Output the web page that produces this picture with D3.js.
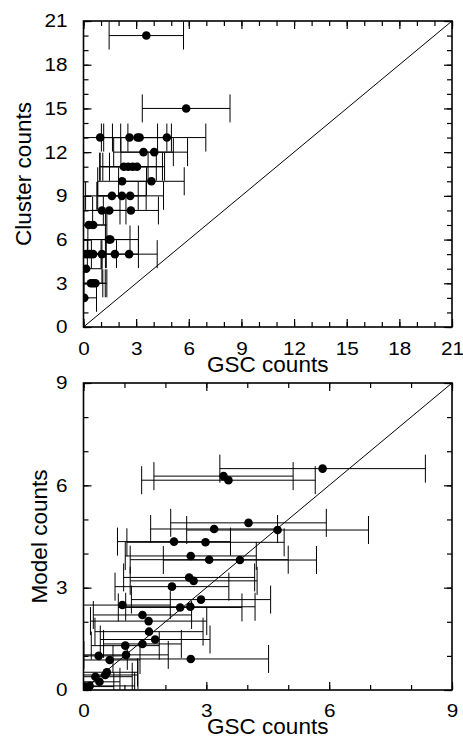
<!DOCTYPE html>
<html>
<head>
<meta charset="utf-8">
<script src="https://cdn.jsdelivr.net/npm/d3@7/dist/d3.min.js"></script>
<style>
  body { margin: 0; background: #fff; }
  svg { display: block; }
  text { font-family: "Liberation Sans", Arial, Helvetica, sans-serif; fill: #000; }
</style>
</head>
<body>
<svg id="chart" width="463" height="738"></svg>
<script>
// Upper panel: cluster counts against GSC counts (with GSC 1-sigma errors)
const clusterGsc    = [3.58, 5.85, 0.95, 2.62, 3.08, 3.20, 4.75, 3.42, 4.03, 2.30, 2.55, 2.80, 3.05, 2.20, 3.87,
                       1.62, 2.19, 2.66, 1.05, 1.47, 2.70, 0.30, 0.55, 1.45, 1.53, 0.15, 0.35, 0.55, 1.05, 1.79,
                       2.60, 0.15, 0.42, 0.55, 0.68, 0.04];
const clusterCounts = [20, 15, 13, 13, 13, 13, 13, 12, 12, 11, 11, 11, 11, 10, 10,
                       9, 9, 9, 8, 8, 8, 7, 7, 6, 6, 5, 5, 5, 5, 5,
                       5, 4, 3, 3, 3, 2];
const clusterGscErr = [2.12, 2.50, 1.17, 1.60, 1.93, 1.55, 2.22, 1.70, 1.90, 1.38, 1.60, 1.70, 1.57, 1.39, 1.87,
                       1.50, 1.38, 1.90, 1.03, 0.95, 1.57, 0.95, 0.78, 1.20, 1.60, 1.10, 0.70, 0.75, 0.83, 1.34,
                       1.60, 0.90, 0.68, 0.69, 0.65, 0.70];

// Lower panel: model counts against GSC counts
const modelGsc    = [5.84, 3.42, 3.54, 4.03, 3.19, 4.74, 2.21, 2.98, 2.62, 3.07, 3.82, 2.58, 2.69, 2.16, 2.87,
                     0.95, 2.36, 2.61, 1.44, 1.59, 1.60, 1.75, 1.44, 1.02, 1.04, 0.37, 0.64, 2.62, 0.57, 0.53,
                     0.39, 0.29, 0.15, 0.04];
const modelCounts = [6.49, 6.27, 6.15, 4.90, 4.72, 4.69, 4.35, 4.33, 3.93, 3.82, 3.81, 3.30, 3.20, 3.03, 2.65,
                     2.49, 2.42, 2.44, 2.20, 2.02, 1.71, 1.48, 1.35, 1.30, 1.03, 1.00, 0.88, 0.91, 0.52, 0.44,
                     0.24, 0.39, 0.12, 0.10];
const modelGscErr = [2.51, 1.70, 2.12, 1.90, 1.55, 2.22, 1.38, 1.92, 1.60, 1.93, 1.87, 1.60, 1.55, 1.39, 1.70,
                     1.17, 1.51, 1.58, 1.20, 1.42, 1.32, 1.34, 0.95, 0.83, 1.03, 0.70, 0.74, 1.90, 0.75, 0.80,
                     0.50, 0.90, 1.10, 0.70];

const upperMajorTicks = [0, 3, 6, 9, 12, 15, 18, 21];
const lowerMajorTicks = [0, 3, 6, 9];

const svg = d3.select("#chart");
const LABEL_STRETCH = 1.12;

function drawPanel(cfg) {
  const { id, top, bottom, left, right, max, majorTicks, xs, ys, errs, xTitle, yTitle,
          xLabelPad, yTitleX, xTitleY } = cfg;
  const x = d3.scaleLinear().domain([0, max]).range([left, right]);
  const y = d3.scaleLinear().domain([0, max]).range([bottom, top]);
  const g = svg.append("g");

  g.append("clipPath").attr("id", id)
    .append("rect").attr("x", left).attr("y", top)
    .attr("width", right - left).attr("height", bottom - top);

  const plot = g.append("g").attr("clip-path", `url(#${id})`);

  // one-to-one line
  plot.append("line")
    .attr("x1", x(0)).attr("y1", y(0)).attr("x2", x(max)).attr("y2", y(max))
    .attr("stroke", "#000").attr("stroke-width", 1);

  const pts = xs.map((v, i) => ({ x: v, y: ys[i], e: errs[i] }));
  const capHalf = 14;

  // horizontal error bars with end caps
  const eb = plot.append("g").attr("stroke", "#000").attr("stroke-width", 1).attr("fill", "none");
  pts.forEach(p => {
    const x0 = x(p.x - p.e), x1 = x(p.x + p.e), yy = y(p.y);
    eb.append("line").attr("x1", x0).attr("x2", x1).attr("y1", yy).attr("y2", yy);
    eb.append("line").attr("x1", x0).attr("x2", x0).attr("y1", yy - capHalf).attr("y2", yy + capHalf);
    eb.append("line").attr("x1", x1).attr("x2", x1).attr("y1", yy - capHalf).attr("y2", yy + capHalf);
  });

  plot.append("g").selectAll("circle").data(pts).join("circle")
    .attr("cx", d => x(d.x)).attr("cy", d => y(d.y)).attr("r", 4.3).attr("fill", "#000");

  const minor = d3.range(0, max + 1);
  const fmt = d3.format("d");

  function styleAxis(sel) {
    sel.select(".domain").remove();
    sel.selectAll(".tick line").attr("stroke", "#000").attr("stroke-width", 1.2);
    sel.selectAll("text").attr("font-size", 18.5).attr("fill", "#000")
      .attr("font-family", "Liberation Sans, Arial, sans-serif");
  }

  // inward minor and major ticks on all four sides
  g.append("g").attr("transform", `translate(0,${bottom})`)
    .call(d3.axisBottom(x).tickValues(minor).tickSize(-5).tickSizeOuter(0).tickFormat("")).call(styleAxis);
  g.append("g").attr("transform", `translate(0,${bottom})`)
    .call(d3.axisBottom(x).tickValues(majorTicks).tickSize(-8).tickSizeOuter(0).tickPadding(xLabelPad).tickFormat(fmt))
    .call(styleAxis)
    .call(s => s.selectAll("text").attr("transform", `scale(${LABEL_STRETCH},1)`));
  g.append("g").attr("transform", `translate(0,${top})`)
    .call(d3.axisTop(x).tickValues(minor).tickSize(-5).tickSizeOuter(0).tickFormat("")).call(styleAxis);
  g.append("g").attr("transform", `translate(0,${top})`)
    .call(d3.axisTop(x).tickValues(majorTicks).tickSize(-8).tickSizeOuter(0).tickFormat("")).call(styleAxis);

  g.append("g").attr("transform", `translate(${left},0)`)
    .call(d3.axisLeft(y).tickValues(minor).tickSize(-5).tickSizeOuter(0).tickFormat("")).call(styleAxis);
  g.append("g").attr("transform", `translate(${left},0)`)
    .call(d3.axisLeft(y).tickValues(majorTicks).tickSize(-8).tickSizeOuter(0).tickPadding(16).tickFormat(fmt))
    .call(styleAxis)
    .call(s => s.selectAll("text")
      .attr("x", -16 / LABEL_STRETCH)
      .attr("transform", `scale(${LABEL_STRETCH},1)`));
  g.append("g").attr("transform", `translate(${right},0)`)
    .call(d3.axisRight(y).tickValues(minor).tickSize(-5).tickSizeOuter(0).tickFormat("")).call(styleAxis);
  g.append("g").attr("transform", `translate(${right},0)`)
    .call(d3.axisRight(y).tickValues(majorTicks).tickSize(-8).tickSizeOuter(0).tickFormat("")).call(styleAxis);

  // frame
  g.append("rect").attr("x", left).attr("y", top)
    .attr("width", right - left).attr("height", bottom - top)
    .attr("fill", "none").attr("stroke", "#000").attr("stroke-width", 1.6);

  g.append("text").attr("x", (left + right) / 2).attr("y", xTitleY)
    .attr("text-anchor", "middle").attr("font-size", 22.5).text(xTitle);
  g.append("text")
    .attr("transform", `translate(${yTitleX},${(top + bottom) / 2}) rotate(-90)`)
    .attr("text-anchor", "middle").attr("font-size", 22.5).text(yTitle);
}

drawPanel({
  id: "clip-upper", top: 21, bottom: 327, left: 83.5, right: 452, max: 21,
  majorTicks: upperMajorTicks, xs: clusterGsc, ys: clusterCounts, errs: clusterGscErr,
  xTitle: "GSC counts", yTitle: "Cluster counts", xLabelPad: 15, yTitleX: 30.5, xTitleY: 371.5
});

drawPanel({
  id: "clip-lower", top: 383, bottom: 690, left: 83.5, right: 452, max: 9,
  majorTicks: lowerMajorTicks, xs: modelGsc, ys: modelCounts, errs: modelGscErr,
  xTitle: "GSC counts", yTitle: "Model counts", xLabelPad: 13.6, yTitleX: 46.5, xTitleY: 733.5
});
</script>
</body>
</html>
